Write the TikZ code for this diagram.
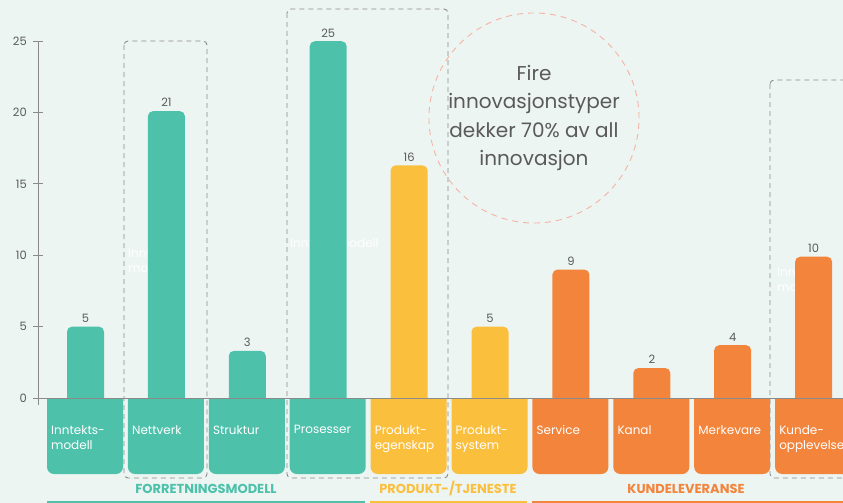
\documentclass[tikz,border=0pt]{standalone}
\usepackage{fontspec}
\setmainfont{Poppins}
\definecolor{bgmint}{HTML}{EDF5F3}
\definecolor{tealbar}{HTML}{4DC1AA}
\definecolor{yellowbar}{HTML}{FBBF3E}
\definecolor{orangebar}{HTML}{F3843C}
\definecolor{axisgray}{HTML}{8A8A8A}
\definecolor{txtgray}{HTML}{5A5A5A}
\definecolor{salmon}{HTML}{F4B3A3}

\begin{document}
\begin{tikzpicture}
				[x=1pt,y=-1pt,
				every node/.style={font=\fontsize{11}{13}\selectfont},
				value/.style={text=txtgray,anchor=south,inner sep=2pt,font=\fontsize{11.5}{13}\selectfont},
				catlabel/.style={text=white,anchor=north west,align=left,inner sep=0pt,font=\fontsize{12}{15}\selectfont},
				ghost/.style={text=white,anchor=north west,align=left,inner sep=0pt,font=\fontsize{12}{15}\selectfont},
				ticklabel/.style={text=txtgray,anchor=east,inner sep=0pt,font=\fontsize{11.5}{13}\selectfont},
				groupbox/.style={draw=axisgray,dash pattern=on 5pt off 4pt,line width=0.9pt,rounded corners=4pt},
				grouplabel/.style={font=\fontsize{13}{14}\selectfont\bfseries},
				callout/.style={circle,draw=salmon,dash pattern=on 6pt off 5pt,line width=0.9pt,minimum size=202pt,
					align=center,text=txtgray,font=\fontsize{20}{28.5}\selectfont}]

				\useasboundingbox[fill=bgmint] (0,0) rectangle (843,503);

				% dashed group boxes
				\draw[groupbox] (124,41) rectangle (207,478);
				\draw[groupbox] (287,9) rectangle (448,478);
				\draw[groupbox] (770,80) rectangle (860,478);

				\node[callout] (note) at (534,118) {Fire\\innovasjonstyper\\dekker 70\% av all\\innovasjon};

				\node[ghost] (ghostA) at (128,248) {Inntekts-\\modell};
				\node[ghost] (ghostB) at (290,238) {Inntektsmodell};
				\node[ghost] (ghostC) at (777,267) {Inntekts-\\modell};

				% bars and categories
				\foreach \i/\h/\v/\c/\t in {1/5/5/tealbar/{Inntekts-\\modell},2/20.1/21/tealbar/Nettverk,
						3/3.3/3/tealbar/Struktur,4/25/25/tealbar/Prosesser,5/16.3/16/yellowbar/{Produkt-\\egenskap},
						6/5/5/yellowbar/{Produkt-\\system},7/9/9/orangebar/Service,8/2.1/2/orangebar/Kanal,
						9/3.7/4/orangebar/Merkevare,10/9.9/10/orangebar/{Kunde-\\opplevelse}}{
					\pgfmathsetmacro{\xo}{47+(\i-1)*80.9}
					\pgfmathsetmacro{\bx}{\xo+20}
					\pgfmathsetmacro{\top}{398-\h*14.27}
					\fill[\c] (\bx,398) -- (\bx,\top+5) arc[start angle=180,end angle=270,radius=5]
						-- (\bx+32,\top) arc[start angle=270,end angle=360,radius=5] -- (\bx+37,398) -- cycle;
					\node[value] (val\i) at (\bx+18.5,\top-2) {\v};
					\fill[\c] (\xo,398) -- (\xo,467) arc[start angle=180,end angle=90,radius=7]
						-- (\xo+69,474) arc[start angle=90,end angle=0,radius=7] -- (\xo+76,398) -- cycle;
					\node[catlabel] (cat\i) at (\xo+4,425) {\t};
				}

				% axis
				\draw[axisgray,line width=1pt] (38.5,41.5) -- (38.5,405);
				\draw[axisgray,line width=1pt] (38.5,398) -- (843,398);
				\foreach \k in {0,5,...,25}{
					\draw[axisgray,line width=1pt] (33,398-\k*14.27) -- (43,398-\k*14.27);
					\node[ticklabel] (tick\k) at (27,398-\k*14.27) {\k};
				}

				% group labels
				\node[grouplabel,text=tealbar] (forr) at (206,489) {FORRETNINGSMODELL};
				\node[grouplabel,text=yellowbar] (prod) at (448,489) {PRODUKT-/TJENESTE};
				\node[grouplabel,text=orangebar] (kunde) at (686,489) {KUNDELEVERANSE};
				\draw[tealbar,line width=2pt] (47,502) -- (365,502);
				\draw[yellowbar,line width=2pt] (370,502) -- (527,502);
				\draw[orangebar,line width=2pt] (532,502) -- (843,502);
			\end{tikzpicture}
\end{document}
